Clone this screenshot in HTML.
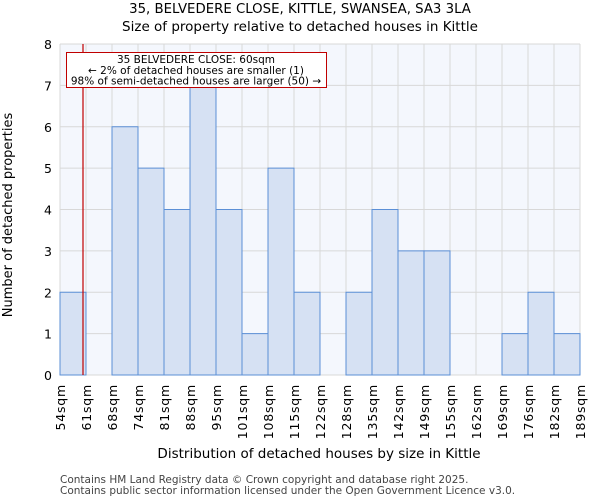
<!DOCTYPE html>
<html><head><meta charset="utf-8"><style>
body{margin:0;background:#fff;font-family:"DejaVu Sans","Liberation Sans",sans-serif;}
</style></head><body>
<svg width="600" height="500" xmlns="http://www.w3.org/2000/svg" font-family="DejaVu Sans, Liberation Sans, sans-serif">
<text x="300" y="13" text-anchor="middle" font-size="13.3">35, BELVEDERE CLOSE, KITTLE, SWANSEA, SA3 3LA</text>
<text x="300" y="31" text-anchor="middle" font-size="13.5">Size of property relative to detached houses in Kittle</text>
<rect x="60" y="44" width="520" height="331" fill="#f4f7fd"/>
<g id="grid"></g>
<g id="bars"></g>
<g id="axes"></g>
<line x1="83" y1="44" x2="83" y2="375" stroke="#c00000" stroke-width="1.2"/>
<rect x="66.5" y="52.5" width="260" height="35" fill="#fff" stroke="#c00000"/>
<text x="196" y="63" text-anchor="middle" font-size="10.5">35 BELVEDERE CLOSE: 60sqm</text>
<text x="196" y="74" text-anchor="middle" font-size="10.5">← 2% of detached houses are smaller (1)</text>
<text x="196" y="84.5" text-anchor="middle" font-size="10.5">98% of semi-detached houses are larger (50) →</text>
<text x="319" y="458" text-anchor="middle" font-size="13.5">Distribution of detached houses by size in Kittle</text>
<text transform="translate(12,215) rotate(-90)" text-anchor="middle" font-size="13">Number of detached properties</text>
<text x="60" y="483" font-size="10.5" fill="#444">Contains HM Land Registry data © Crown copyright and database right 2025.</text>
<text x="60" y="494" font-size="10.5" fill="#444">Contains public sector information licensed under the Open Government Licence v3.0.</text>
</svg>
<script>
const tickLabels=["54sqm","61sqm","68sqm","74sqm","81sqm","88sqm","95sqm","101sqm","108sqm","115sqm","122sqm","128sqm","135sqm","142sqm","149sqm","155sqm","162sqm","169sqm","176sqm","182sqm","189sqm"];
const counts=[2,0,6,5,4,7,4,1,5,2,0,2,4,3,3,0,0,1,2,1];
const yTicks=[0,1,2,3,4,5,6,7,8];
const NS="http://www.w3.org/2000/svg";
const X0=60,X1=580,Y0=375,Y1=44,YMAX=8;
const bw=(X1-X0)/counts.length;
const xs=i=>X0+i*bw;
const ys=v=>Y0-(v/YMAX)*(Y0-Y1);
function mk(tag,at,parent){const e=document.createElementNS(NS,tag);for(const k in at)e.setAttribute(k,at[k]);document.getElementById(parent).appendChild(e);return e;}
yTicks.forEach(t=>{
 const l=mk('line',{x1:X0,x2:X1,y1:ys(t),y2:ys(t),stroke:'#d8d8d8'},'grid');
 
 
 const tx=mk('text',{x:X0-8,y:ys(t)+5,'text-anchor':'end','font-size':'12.5'},'axes');
 tx.textContent=t;
 
 
});
tickLabels.forEach((s,i)=>{
 const l=mk('line',{x1:xs(i),x2:xs(i),y1:Y1,y2:Y0,stroke:'#d8d8d8'},'grid');
 
 
 const tx=mk('text',{transform:`translate(${xs(i)+5},384) rotate(-90)`,'text-anchor':'end','font-size':'12.5','letter-spacing':'0.8'},'axes');
 tx.textContent=s;
 
 
});
counts.forEach((v,i)=>{
 if(v<=0)return;
 const r=mk('rect',{x:xs(i),y:ys(v),width:bw,height:Y0-ys(v),fill:'#d6e1f3',stroke:'#5b8fd6','stroke-width':1},'bars');
 
 
});
</script>
</body></html>
